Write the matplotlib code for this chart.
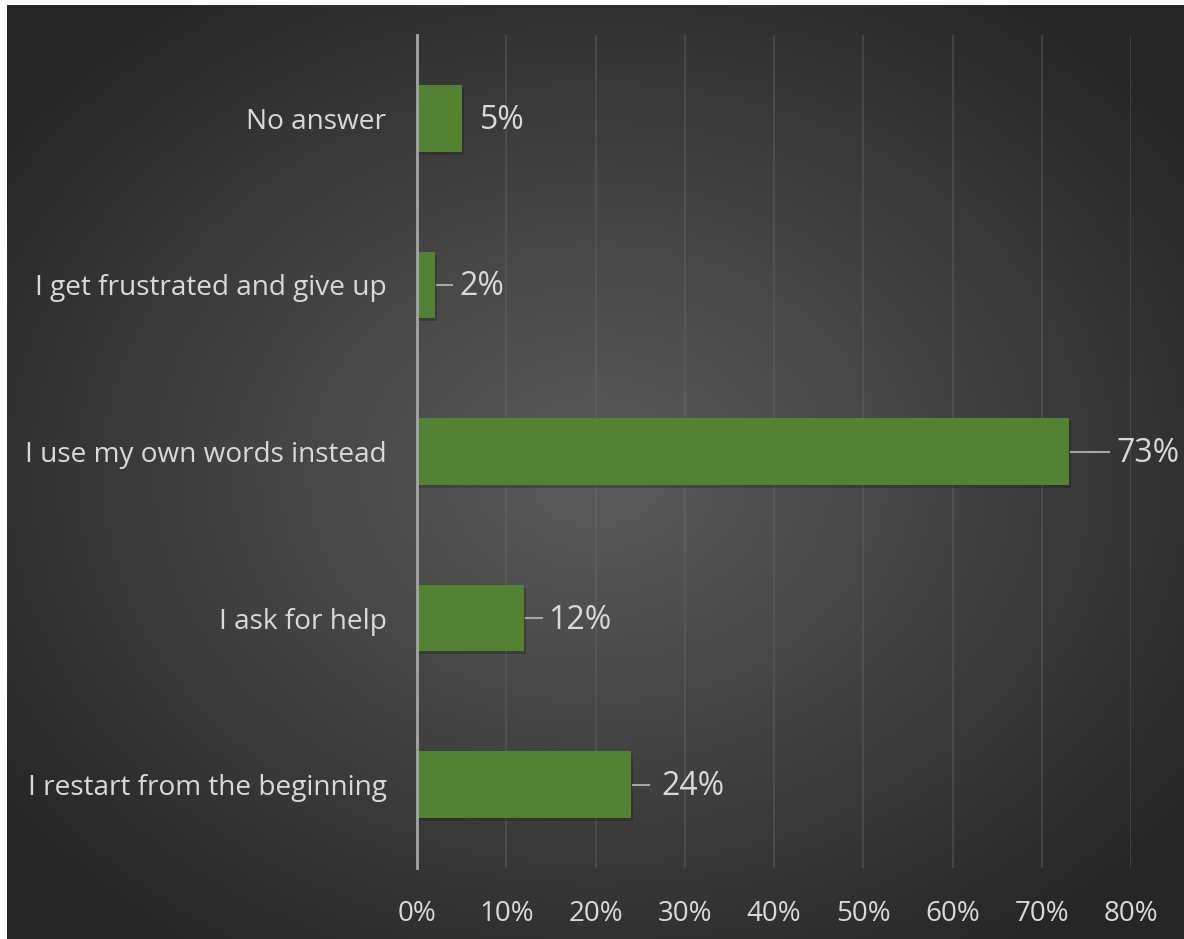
import numpy as np
import matplotlib
matplotlib.use("Agg")
import matplotlib.pyplot as plt
from matplotlib import transforms

categories = ["I restart from the beginning", "I ask for help", "I use my own words instead",
              "I get frustrated and give up", "No answer"]
values = [24, 12, 73, 2, 5]
tick_values = [0, 10, 20, 30, 40, 50, 60, 70, 80]
tick_labels = ["0%", "10%", "20%", "30%", "40%", "50%", "60%", "70%", "80%"]

# style: leader line lengths and label gaps (pixels)
leader_len = [16, 16, 38, 15, 0]
label_gap = [30, 24, 48, 25, 18]

W, H = 1184, 939
fig = plt.figure(figsize=(W / 100, H / 100), dpi=100)
fig.patch.set_facecolor("white")

# background with radial gradient
bg = fig.add_axes([7 / W, 0, 1 - 7 / W, 1 - 5 / H])
bg.set_axis_off()
ny, nx = 400, 500
yy, xx = np.mgrid[0:ny, 0:nx]
cx, cy = nx * 0.5, ny * 0.5
r = np.sqrt(((xx - cx) / (nx * 0.62)) ** 2 + ((yy - cy) / (ny * 0.62)) ** 2)
r = np.clip(r, 0, 1)
c0, c1 = 0x5a / 255, 0x26 / 255
img = c0 + (c1 - c0) * r ** 1.1
bg.imshow(np.dstack([img, img, img]), aspect="auto", extent=[0, 1, 0, 1])
bg.set_xlim(0, 1)
bg.set_ylim(0, 1)

ax = fig.add_axes([417 / W, 71 / H, (1131 - 417) / W, (868 - 35) / H])
ax.patch.set_alpha(0)
ypos = np.arange(len(categories))

font = "Open Sans"
txtcol = "#d9d9d9"

# shadows
shadow_off = transforms.offset_copy(ax.transData, fig=fig, x=2, y=-3, units="dots")
ax.barh(ypos, values, height=0.4, color="black", alpha=0.18, transform=shadow_off, zorder=2)
ax.barh(ypos, values, height=0.4, color="#548235", zorder=3)

ax.set_xlim(0, 80)
ax.set_ylim(-0.5, len(categories) - 0.5)
ax.set_xticks(tick_values)
ax.set_xticklabels(tick_labels)
ax.set_yticks(ypos)
ax.set_yticklabels(categories)
ax.tick_params(axis="both", length=0, colors=txtcol)
ax.tick_params(axis="x", pad=23)
ax.tick_params(axis="y", pad=22)
for lab in ax.get_xticklabels():
    lab.set_fontfamily(font)
    lab.set_fontsize(20)
for lab in ax.get_yticklabels():
    lab.set_fontfamily(font)
    lab.set_fontsize(20.2)
ax.grid(axis="x", color="#6a6a6a", linewidth=1.2, alpha=0.45, zorder=1)
for s in ["top", "right", "bottom"]:
    ax.spines[s].set_visible(False)
ax.spines["left"].set_color("#a6a6a6")
ax.spines["left"].set_linewidth(2)
ax.spines["left"].set_zorder(4)

for y, v, ll, gap in zip(ypos, values, leader_len, label_gap):
    if ll > 0:
        start = transforms.offset_copy(ax.transData, fig=fig, x=2, y=0, units="dots")
        end = transforms.offset_copy(ax.transData, fig=fig, x=2 + ll, y=0, units="dots")
        p0 = start.transform((v, y))
        p1 = end.transform((v, y))
        fig.add_artist(plt.Line2D([p0[0] / W, p1[0] / W], [p0[1] / H, p1[1] / H],
                                  color="#a6a6a6", linewidth=1.5))
    ax.annotate(f"{v}%", xy=(v, y), xytext=(gap, -2), textcoords="offset pixels",
                va="center", ha="left", color=txtcol, fontsize=23, fontfamily=font)

fig.savefig("out.png", dpi=100, facecolor=fig.get_facecolor())
